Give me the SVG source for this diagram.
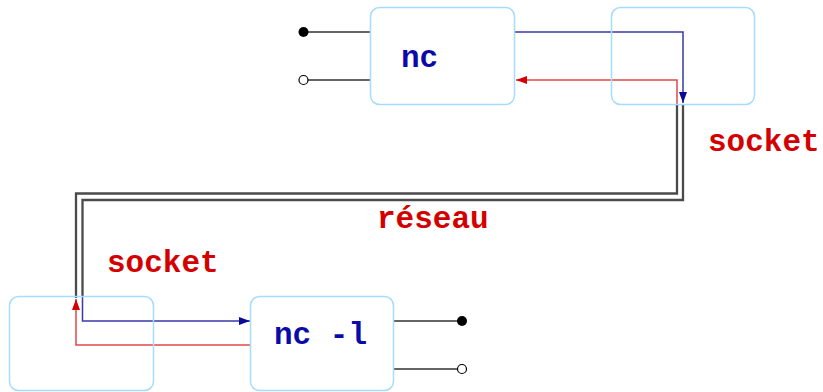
<svg xmlns="http://www.w3.org/2000/svg" width="823" height="392" viewBox="0 0 823 392">
<style>
.box{fill:none;stroke:#a6dcff;stroke-width:1.5}
.wire{fill:none;stroke:#333;stroke-width:1.5}
.net{fill:none;stroke:#4a4a4a;stroke-width:2.3}
.blue{fill:none;stroke:#3a3aa6;stroke-width:1.5}
.red{fill:none;stroke:#e04848;stroke-width:1.5}
.lbl{font-family:"Liberation Mono","Courier New",monospace;font-weight:bold;font-size:31px}
.nt{fill:#0a0aaa}
.rt{fill:#d40000}
</style>
<defs>
<marker id="ab" markerUnits="userSpaceOnUse" markerWidth="12" markerHeight="9" refX="11" refY="4.5" orient="auto"><path d="M0,0.5 L11,4.5 L0,8.5 z" fill="#0a0a99"/></marker>
<marker id="ar" markerUnits="userSpaceOnUse" markerWidth="12" markerHeight="9" refX="11" refY="4.5" orient="auto"><path d="M0,0.5 L11,4.5 L0,8.5 z" fill="#d40000"/></marker>
</defs>
<g id="connectors">
<path class="net" d="M677 104 V193.5 H76 V298"/>
<path class="net" d="M683 104 V200 H82.5 V297"/>
<path class="blue" d="M515 32 H683 V103" marker-end="url(#ab)"/>
<path class="red" d="M677 104 V80 H516" marker-end="url(#ar)"/>
<path class="blue" d="M82.5 297 V321 H250" marker-end="url(#ab)"/>
<path class="red" d="M250 345 H76 V299" marker-end="url(#ar)"/>
<path class="wire" d="M303 32 H370 M303 80 H370 M394 321 H462 M394 369 H462"/>
</g>
<g id="nc">
<rect class="box" x="370.5" y="7.5" width="144" height="97" rx="9"/>
<text class="lbl nt" x="401" y="67">nc</text>
<circle cx="303.5" cy="32" r="5" fill="#000"/>
<circle cx="303.5" cy="80" r="4.5" fill="#fff" stroke="#000" stroke-width="1.2"/>
</g>
<g id="socket-top">
<rect class="box" x="611.5" y="7.5" width="143" height="97" rx="9"/>
</g>
<g id="socket-bottom">
<rect class="box" x="9.5" y="296.5" width="144" height="94" rx="9"/>
</g>
<g id="nc-l">
<rect class="box" x="250.5" y="296.5" width="143" height="94" rx="9"/>
<text class="lbl nt" x="274" y="344">nc -l</text>
<circle cx="462" cy="321" r="5" fill="#000"/>
<circle cx="462" cy="369" r="4.5" fill="#fff" stroke="#000" stroke-width="1.2"/>
</g>
<g id="labels">
<text class="lbl rt" x="708" y="151">socket</text>
<text class="lbl rt" x="377" y="228">réseau</text>
<text class="lbl rt" x="107" y="272">socket</text>
</g>
</svg>
